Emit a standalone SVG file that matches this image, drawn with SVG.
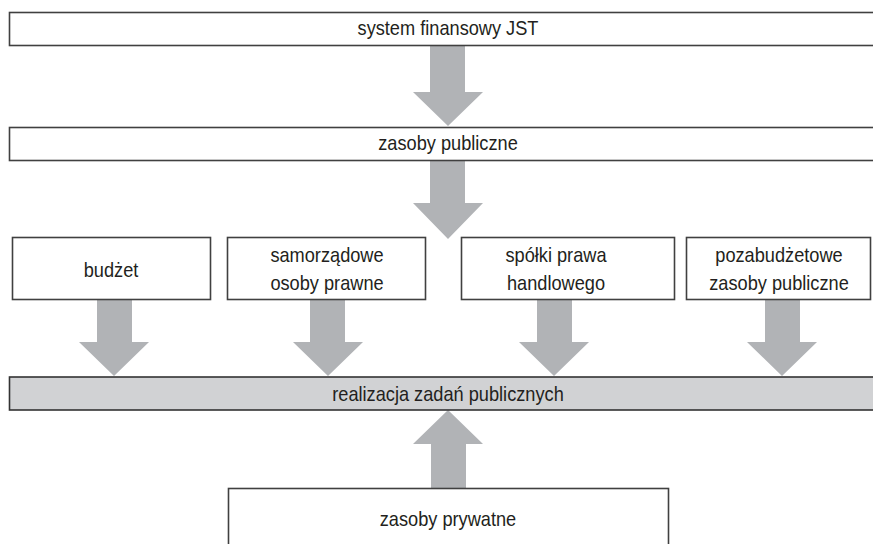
<svg xmlns="http://www.w3.org/2000/svg" width="873" height="544" viewBox="0 0 873 544">
<style>
.box{fill:#ffffff;stroke:#404040;stroke-width:1.6}
.bar{fill:#d1d2d4;stroke:#333333;stroke-width:1.6}
.arr{fill:#b1b3b6;stroke:none}
text{font-family:"Liberation Sans",Arial,sans-serif;font-size:20px;fill:#231f20;text-anchor:middle}
</style>
<rect width="873" height="544" fill="#ffffff"/>
<g id="connectors">
<path class="arr" d="M430,46 H465 V92 H483 L448,126 L413,92 H430 Z"/>
<path class="arr" d="M430,161 H465 V203 H483 L448,239 L413,203 H430 Z"/>
<path class="arr" d="M97,300 H132 V342 H149 L114,376 L79,342 H97 Z"/>
<path class="arr" d="M310,300 H345 V342 H363 L328,376 L293,342 H310 Z"/>
<path class="arr" d="M537,300 H572 V342 H589 L554,376 L519,342 H537 Z"/>
<path class="arr" d="M765,300 H800 V342 H817 L782,376 L747,342 H765 Z"/>
<path class="arr" d="M431,488 H466 V444 H483 L448,410 L413,444 H431 Z"/>
</g>
<g id="system">
<rect class="box" x="9.5" y="12.5" width="870" height="33"/>
<text transform="translate(448,35) scale(0.91,1)">system finansowy JST</text>
</g>
<g id="zasoby-publiczne">
<rect class="box" x="9.5" y="127.5" width="870" height="33"/>
<text transform="translate(448,150) scale(0.91,1)">zasoby publiczne</text>
</g>
<g id="budzet">
<rect class="box" x="12.5" y="237.5" width="198" height="62"/>
<text transform="translate(111,277) scale(0.91,1)">budżet</text>
</g>
<g id="samorzadowe">
<rect class="box" x="227.5" y="237.5" width="198" height="62"/>
<text transform="translate(327,262) scale(0.91,1)">samorządowe</text>
<text transform="translate(327,290) scale(0.91,1)">osoby prawne</text>
</g>
<g id="spolki">
<rect class="box" x="461.5" y="237.5" width="213" height="62"/>
<text transform="translate(556,262) scale(0.91,1)">spółki prawa</text>
<text transform="translate(556,290) scale(0.91,1)">handlowego</text>
</g>
<g id="pozabudzetowe">
<rect class="box" x="686.5" y="237.5" width="184" height="62"/>
<text transform="translate(779,262) scale(0.91,1)">pozabudżetowe</text>
<text transform="translate(779,290) scale(0.91,1)">zasoby publiczne</text>
</g>
<g id="realizacja">
<rect class="bar" x="9.5" y="377" width="870" height="33"/>
<text transform="translate(448,401) scale(0.91,1)">realizacja zadań publicznych</text>
</g>
<g id="zasoby-prywatne">
<rect class="box" x="228.5" y="488.5" width="440" height="70"/>
<text transform="translate(448,526) scale(0.91,1)">zasoby prywatne</text>
</g>
</svg>
